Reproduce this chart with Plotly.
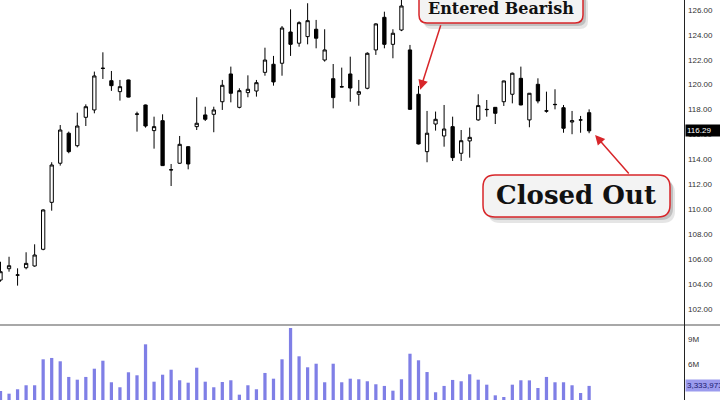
import plotly.graph_objects as go

# ---------------- data ----------------
opens = [104.31, 105.22, 104.70, 105.30, 105.44, 106.78, 110.55, 113.69, 116.10, 115.10,
         117.38, 117.97, 121.30, 120.32, 119.44, 120.38, 117.65, 118.37, 116.31, 117.11,
         113.15, 113.69, 115.02, 116.63, 117.57, 117.62, 118.63, 120.86, 118.18, 119.36,
         119.49, 120.99, 121.64, 121.72, 124.23, 123.33, 123.86, 124.45, 121.98, 120.48,
         119.84, 120.86, 119.23, 119.71, 122.79, 125.41, 123.24, 124.39, 122.79, 119.23,
         114.62, 116.84, 115.88, 116.63, 114.49, 115.48, 117.17, 118.02, 118.18, 118.63,
         119.23, 120.51, 117.17, 120.03, 117.90, 118.42, 118.15, 117.00, 117.16, 117.75]
highs = [105.78, 106.18, 105.25, 106.54, 107.18, 110.00, 113.77, 116.76, 116.23, 117.75,
         118.42, 121.05, 122.60, 121.10, 120.38, 120.40, 117.83, 118.40, 117.43, 117.62,
         113.63, 115.88, 115.05, 118.99, 118.23, 118.23, 120.38, 121.45, 119.71, 120.75,
         120.38, 122.97, 122.31, 124.71, 126.05, 125.09, 126.54, 125.20, 124.45, 121.66,
         121.37, 122.25, 120.38, 122.60, 124.93, 125.86, 124.45, 126.90, 123.19, 119.90,
         117.89, 117.84, 118.37, 117.43, 116.36, 116.55, 119.23, 118.77, 118.20, 120.32,
         120.97, 121.45, 119.33, 120.51, 119.44, 119.63, 118.37, 117.89, 117.49, 118.02]
lows = [104.18, 104.98, 103.86, 105.17, 105.38, 106.70, 109.88, 113.50, 114.49, 114.97,
        116.68, 117.70, 120.46, 119.50, 118.72, 118.98, 116.23, 116.55, 114.86, 113.49,
        111.86, 113.65, 113.20, 116.36, 117.08, 116.18, 117.97, 118.58, 118.10, 118.99,
        119.04, 120.72, 119.92, 120.72, 122.31, 123.05, 123.24, 122.92, 121.85, 118.10,
        119.79, 118.63, 118.31, 119.63, 122.39, 122.92, 122.12, 124.30, 117.97, 115.20,
        113.77, 116.31, 115.02, 113.87, 113.87, 114.14, 117.10, 117.43, 116.84, 118.29,
        118.50, 118.35, 116.58, 118.50, 117.75, 118.02, 116.14, 116.02, 116.14, 116.10]
closes = [104.98, 105.46, 104.72, 105.65, 106.32, 109.94, 113.55, 116.36, 114.62, 116.68,
          118.23, 120.70, 121.32, 119.92, 119.84, 119.00, 117.63, 116.68, 116.63, 113.50,
          113.17, 115.21, 113.63, 116.90, 117.22, 117.97, 119.95, 119.31, 119.52, 119.63,
          120.16, 121.98, 120.22, 124.55, 123.24, 124.98, 125.14, 123.73, 122.79, 118.96,
          119.82, 119.73, 119.44, 122.52, 124.88, 123.24, 124.13, 126.32, 118.02, 115.24,
          116.10, 117.22, 116.44, 114.14, 115.50, 115.77, 118.32, 118.00, 117.70, 120.30,
          120.92, 118.37, 119.31, 118.69, 117.88, 118.40, 116.50, 117.11, 117.17, 116.29]
volumes = [2720000, 2400000, 2930000, 3410000, 3410000, 6530000, 6690000, 6290000, 4410000, 4080000,
           4410000, 5400000, 6360000, 3770000, 3170000, 4970000, 4610000, 8330000, 3840000, 4680000,
           5280000, 4010000, 3720000, 5520000, 3840000, 3170000, 3800000, 4010000, 2280000, 3410000,
           2930000, 4890000, 4200000, 6530000, 10290000, 6890000, 5570000, 6000000, 3770000, 6000000,
           3770000, 4200000, 4130000, 3890000, 3530000, 3330000, 2760000, 4130000, 7200000, 6410000,
           5000000, 2570000, 3330000, 4050000, 3890000, 4730000, 4080000, 3480000, 2200000, 2000000,
           3480000, 4010000, 4000000, 3080000, 4410000, 3770000, 3770000, 3410000, 2480000, 3333973]
days = list(range(len(closes)))

price_ticks = [102, 104, 106, 108, 110, 112, 114, 116, 118, 120, 122, 124, 126]
price_tick_labels = [f"{v:.2f}" for v in price_ticks]
volume_ticks = [6000000, 9000000]
volume_tick_labels = ["6M", "9M"]

ENTRY_IDX = 49
EXIT_IDX = 69
entry_label = "Entered Bearish"
exit_label = "Closed Out"

# ---------------- layout constants ----------------
W, H = 720, 400
PW = 685  # plot width in px (right margin holds axis labels)
RED = "#d8262a"
SERIF = "DejaVu Serif"


def px(x):
    return x / PW


def py(y):
    return 1 - y / H


def rrect(x0, y0, x1, y1, r):
    rx, ry = r / PW, r / H
    X0, X1, Y0, Y1 = px(x0), px(x1), py(y0), py(y1)
    return (f"M {X0+rx},{Y0} L {X1-rx},{Y0} Q {X1},{Y0} {X1},{Y0-ry} "
            f"L {X1},{Y1+ry} Q {X1},{Y1} {X1-rx},{Y1} L {X0+rx},{Y1} "
            f"Q {X0},{Y1} {X0},{Y1+ry} L {X0},{Y0-ry} Q {X0},{Y0} {X0+rx},{Y0} Z")


fig = go.Figure()
fig.add_trace(go.Candlestick(
    x=days, open=opens, high=highs, low=lows, close=closes,
    increasing=dict(fillcolor="white", line=dict(color="black", width=1)),
    decreasing=dict(fillcolor="black", line=dict(color="black", width=1)),
    xaxis="x", yaxis="y", showlegend=False, hoverinfo="skip",
))
fig.add_trace(go.Bar(
    x=days, y=volumes, width=0.38, marker=dict(color="#7f7fe6", line=dict(width=0)),
    xaxis="x2", yaxis="y2", showlegend=False, hoverinfo="skip",
))

xr = [-0.06, 80.24]
shapes = []
# separator between panels
shapes.append(dict(type="line", xref="paper", yref="paper", x0=0, x1=W / PW,
                   y0=py(325), y1=py(325), line=dict(color="#a8a8a8", width=2)))
# right axis line
shapes.append(dict(type="line", xref="paper", yref="paper", x0=px(684.5), x1=px(684.5),
                   y0=0, y1=1, line=dict(color="#222", width=1)))
# callout boxes with shadows
for (x0, y0, x1, y1, r) in [(419, -10, 583, 23, 8), (483, 175, 670, 217, 12)]:
    shapes.append(dict(type="path", xref="paper", yref="paper", path=rrect(x0 + 5, y0 + 6, x1 + 5, y1 + 6, r),
                       fillcolor="rgba(0,0,0,0.10)", line=dict(width=0), layer="above"))
    shapes.append(dict(type="path", xref="paper", yref="paper", path=rrect(x0 + 3, y0 + 3, x1 + 3, y1 + 3, r),
                       fillcolor="rgba(0,0,0,0.16)", line=dict(width=0), layer="above"))
    shapes.append(dict(type="path", xref="paper", yref="paper", path=rrect(x0, y0, x1, y1, r),
                       fillcolor="#f3f3f3", line=dict(color=RED, width=1.5), layer="above"))

annotations = [
    # arrows
    dict(x=ENTRY_IDX + 0.2, y=highs[ENTRY_IDX] - 0.3, xref="x", yref="y", text="", showarrow=True,
         ax=21, ay=-66, arrowhead=2, arrowsize=1.3, arrowwidth=1.5, arrowcolor=RED, standoff=0),
    dict(x=EXIT_IDX + 0.7, y=lows[EXIT_IDX] - 0.14, xref="x", yref="y", text="", showarrow=True,
         ax=35, ay=40, arrowhead=2, arrowsize=1.3, arrowwidth=1.5, arrowcolor=RED, standoff=0),
    # callout texts
    dict(x=px(501), y=py(9), xref="paper", yref="paper", text=f"<b>{entry_label}</b>", showarrow=False,
         font=dict(family=SERIF, size=16, color="#111"), xanchor="center", yanchor="middle"),
    dict(x=px(576), y=py(195), xref="paper", yref="paper", text=f"<b>{exit_label}</b>", showarrow=False,
         font=dict(family=SERIF, size=26, color="#111"), xanchor="center", yanchor="middle"),
    # last close label
    dict(x=px(685), y=closes[-1], xref="paper", yref="y", text=f"{closes[-1]:.2f}", showarrow=False,
         xanchor="left", yanchor="middle", bgcolor="black", font=dict(family="Liberation Sans", size=8, color="white"),
         borderpad=1, width=33, align="left"),
    # last volume label
    dict(x=px(685), y=volumes[-1], xref="paper", yref="y2", text=f"{volumes[-1]:,}", showarrow=False,
         xanchor="left", yanchor="middle", bgcolor="#9b9bee", font=dict(family="Liberation Sans", size=8, color="#1a1a70"),
         borderpad=1, width=36, align="left"),
]

fig.update_layout(
    template="none",
    width=W, height=H,
    margin=dict(l=0, r=W - PW, t=0, b=0, pad=0, autoexpand=False),
    paper_bgcolor="white", plot_bgcolor="white",
    boxgap=0.45,
    xaxis=dict(range=xr, domain=[0, 1], anchor="y", showticklabels=False, showgrid=False, automargin=False,
               zeroline=False, showline=False, rangeslider=dict(visible=False), fixedrange=True, ticks=""),
    xaxis2=dict(range=xr, domain=[0, 1], anchor="y2", showticklabels=False, showgrid=False, automargin=False,
                zeroline=False, showline=False, ticks=""),
    yaxis=dict(domain=[py(323), 1], range=[100.86, 126.80], side="right", anchor="x", automargin=False,
               tickvals=price_ticks, ticktext=price_tick_labels, ticks="", showgrid=False,
               zeroline=False, showline=False, ticklabelstandoff=2,
               tickfont=dict(family="Liberation Sans", size=8, color="#333")),
    yaxis2=dict(domain=[0, py(326)], range=[1.64e6, 10.53e6], side="right", anchor="x2", automargin=False,
                tickvals=volume_ticks, ticktext=volume_tick_labels, ticks="", showgrid=False,
                zeroline=False, showline=False, ticklabelstandoff=2,
                tickfont=dict(family="Liberation Sans", size=8, color="#333")),
    shapes=shapes,
    annotations=annotations,
)

fig.write_html("out.html", config={"displayModeBar": False},
               post_script="document.body.style.margin='0';document.body.style.overflow='hidden';")
